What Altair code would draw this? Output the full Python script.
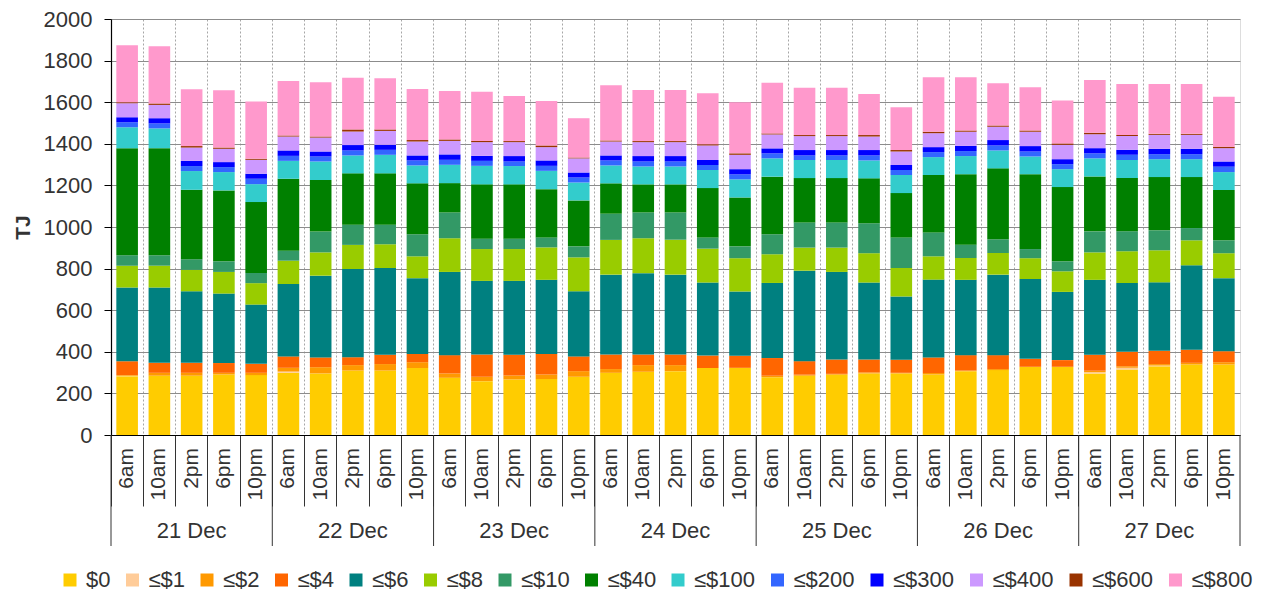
import altair as alt
import pandas as pd

categories = ["$0", "≤$1", "≤$2", "≤$4", "≤$6", "≤$8", "≤$10", "≤$40",
              "≤$100", "≤$200", "≤$300", "≤$400", "≤$600", "≤$800"]
colors = ["#FFCC00", "#FFCC99", "#FF9900", "#FF6600", "#008080", "#99CC00",
          "#339966", "#008000", "#33CCCC", "#3366FF", "#0000FF", "#CC99FF",
          "#993300", "#FF99CC"]
days = ["21 Dec", "22 Dec", "23 Dec", "24 Dec", "25 Dec", "26 Dec", "27 Dec"]
times = ["6am", "10am", "2pm", "6pm", "10pm"]

# TJ per price band, 35 bars (7 days x 5 times)
v_0 = [283, 285, 285, 291, 288, 299, 296, 310, 310, 322, 275, 259, 267, 269, 280,
       299, 304, 307, 322, 323, 278, 285, 290, 296, 296, 291, 307, 312, 328, 328,
       296, 315, 330, 339, 339]
v_1 = [2, 0, 0, 0, 0, 6, 0, 0, 0, 0, 0, 0, 0, 0, 0,
       0, 0, 0, 0, 0, 0, 0, 0, 0, 0, 0, 0, 0, 0, 0,
       6, 8, 4, 0, 0]
v_2 = [3, 14, 14, 8, 11, 18, 30, 26, 31, 28, 21, 21, 19, 22, 27,
       18, 32, 29, 0, 0, 7, 5, 4, 5, 3, 7, 3, 5, 0, 0,
       7, 8, 7, 8, 11]
v_4 = [67, 48, 48, 47, 43, 55, 47, 38, 45, 40, 88, 107, 100, 99, 71,
       70, 51, 51, 60, 58, 85, 65, 69, 62, 63, 75, 74, 67, 38, 32,
       77, 69, 64, 63, 53]
v_6 = [354, 362, 344, 334, 285, 348, 393, 424, 417, 364, 400, 354, 355, 356, 313,
       384, 391, 384, 351, 309, 361, 435, 421, 370, 304, 374, 362, 387, 384, 328,
       360, 331, 329, 406, 351]
v_8 = [105, 105, 103, 104, 103, 112, 112, 116, 114, 105, 162, 153, 153, 156, 163,
       167, 168, 168, 163, 160, 138, 111, 117, 141, 137, 112, 105, 104, 100, 99,
       132, 152, 154, 120, 120]
v_10 = [50, 50, 51, 51, 49, 48, 100, 97, 94, 106, 124, 50, 50, 48, 53,
        126, 124, 131, 54, 57, 96, 121, 121, 144, 147, 115, 64, 66, 44, 48,
        101, 96, 96, 59, 62]
v_40 = [515, 515, 334, 341, 341, 346, 248, 247, 247, 245, 141, 261, 261, 232, 221,
        146, 135, 135, 237, 235, 277, 213, 213, 216, 213, 276, 339, 341, 360, 357,
        264, 256, 256, 245, 242]
v_100 = [101, 95, 90, 88, 86, 86, 89, 86, 89, 86, 88, 89, 88, 88, 86,
         86, 86, 86, 87, 87, 88, 87, 87, 86, 87, 86, 87, 86, 85, 86,
         87, 87, 86, 86, 86]
v_200 = [24, 24, 24, 24, 26, 24, 24, 24, 24, 24, 24, 24, 22, 24, 24,
         24, 24, 24, 24, 24, 24, 22, 22, 24, 24, 24, 24, 24, 24, 24,
         24, 25, 24, 24, 26]
v_300 = [24, 25, 25, 24, 24, 26, 24, 26, 24, 24, 26, 24, 26, 26, 24,
         24, 26, 26, 24, 25, 24, 26, 26, 26, 24, 24, 25, 26, 26, 24,
         25, 24, 26, 26, 25]
v_400 = [67, 64, 64, 64, 67, 67, 67, 65, 67, 67, 65, 66, 67, 64, 68,
         67, 67, 67, 70, 69, 67, 67, 67, 65, 65, 67, 68, 64, 69, 69,
         67, 66, 67, 67, 64]
v_600 = [5, 7, 7, 6, 5, 5, 5, 10, 7, 7, 7, 6, 5, 8, 4,
         5, 5, 5, 6, 7, 5, 5, 5, 7, 7, 7, 6, 6, 6, 7,
         7, 5, 5, 5, 7]
v_800 = [274, 275, 273, 276, 275, 262, 261, 249, 246, 246, 233, 236, 217, 214, 189,
         266, 246, 246, 245, 246, 243, 227, 227, 198, 206, 262, 256, 203, 208, 206,
         254, 246, 240, 240, 240]

series = [v_0, v_1, v_2, v_4, v_6, v_8, v_10, v_40, v_100, v_200, v_300, v_400, v_600, v_800]

FONT = "Liberation Sans"
TXT = "#333333"
W, H = 1129, 416
n = len(days) * len(times)
idx_domain = list(range(n))

rows = []
for k, (cat, vals) in enumerate(zip(categories, series)):
    for i, v in enumerate(vals):
        rows.append({"idx": i, "cat": cat, "order": k, "value": v})
df = pd.DataFrame(rows)

lab_rows = []
for d, day in enumerate(days):
    for t, tm in enumerate(times):
        lab_rows.append({"idx": d * len(times) + t, "time": tm, "day": day})
labels = pd.DataFrame(lab_rows)
day_centres = labels[labels["time"] == times[len(times) // 2]]
group_starts = labels[labels["time"] == times[0]]
last_bar = labels.tail(1)

xscale = alt.Scale(domain=idx_domain, paddingInner=0, paddingOuter=0)

bars = alt.Chart(df).mark_bar(width=alt.RelativeBandSize(0.67)).encode(
    x=alt.X("idx:O", scale=xscale,
            axis=alt.Axis(labels=False, title=None, bandPosition=0, grid=True,
                          gridDash=[2, 2], gridColor="#a6a6a6", gridWidth=1,
                          ticks=True, tickSize=71, tickColor="#333333", tickWidth=1,
                          domainColor="#000000", domainWidth=1.2)),
    y=alt.Y("value:Q", stack="zero",
            scale=alt.Scale(domain=[0, 2000], nice=False),
            axis=alt.Axis(values=list(range(0, 2001, 200)), format="d", title="TJ",
                          titleFontWeight="bold", titleFontSize=21, titleFont=FONT,
                          titleColor=TXT, titlePadding=10,
                          labelFontSize=22, labelFont=FONT, labelColor=TXT,
                          labelPadding=12, tickSize=7, tickColor="#000000",
                          domainColor="#000000", domainWidth=1.2,
                          gridColor="#8c8c8c", gridWidth=1)),
    color=alt.Color("cat:N", scale=alt.Scale(domain=categories, range=colors),
                    legend=alt.Legend(title=None, orient="none", direction="horizontal",
                                      legendX=-52, legendY=550, columns=14,
                                      symbolType="square", symbolSize=169,
                                      symbolStrokeWidth=0, labelFontSize=22,
                                      labelFont=FONT, labelColor=TXT, labelOffset=5,
                                      columnPadding=10.5, labelLimit=0, padding=0)),
    order=alt.Order("order:Q"),
)

time_text = alt.Chart(labels).mark_text(
    angle=270, align="right", baseline="middle", fontSize=21, font=FONT, color=TXT
).encode(x=alt.X("idx:O", scale=xscale), y=alt.value(H + 13), text="time:N")

day_text = alt.Chart(day_centres).mark_text(
    align="center", baseline="middle", fontSize=22, font=FONT, color=TXT
).encode(x=alt.X("idx:O", scale=xscale), y=alt.value(H + 96), text="day:N")

sep = alt.Chart(group_starts).mark_rule(color="#333333", strokeWidth=1).encode(
    x=alt.X("idx:O", scale=xscale, bandPosition=0),
    y=alt.value(H), y2=alt.value(H + 111))

sep_end = alt.Chart(last_bar).mark_rule(color="#333333", strokeWidth=1).encode(
    x=alt.X("idx:O", scale=xscale, bandPosition=1),
    y=alt.value(H), y2=alt.value(H + 111))

chart = alt.layer(bars, sep, sep_end, time_text, day_text).properties(
    width=W, height=H,
    autosize=alt.AutoSizeParams(type="none"),
    padding={"left": 103, "top": 11, "right": 20, "bottom": 157},
).configure_view(stroke="#8c8c8c", strokeWidth=1).configure(background="white")

chart.save("out.html", embed_options={"renderer": "svg", "actions": False})
